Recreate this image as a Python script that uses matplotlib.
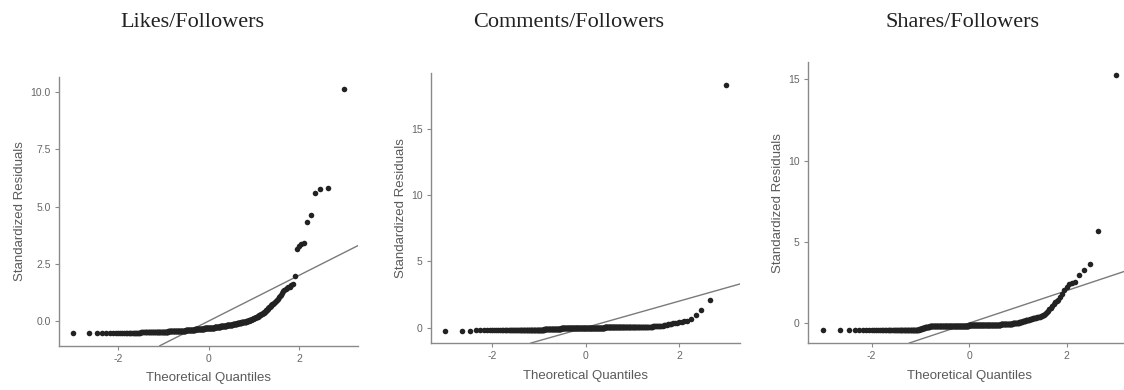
import numpy as np  # For arrays
import matplotlib
matplotlib.use("Agg")  # No display
import matplotlib.pyplot as plt  # For plotting
from statistics import NormalDist  # For normal quantiles


# Panel titles and axis ticks
titles = ["Likes/Followers", "Comments/Followers", "Shares/Followers"]
x_ticks = [-2, 0, 2]
y_ticks_likes = [0.0, 2.5, 5.0, 7.5, 10.0]
y_ticks_comments = [0, 5, 10, 15]
y_ticks_shares = [0, 5, 10, 15]

# Sorted standardized residuals (370 per panel)
likes_resid = [
    -0.54, -0.53, -0.53, -0.52, -0.52, -0.52, -0.52, -0.51, -0.51, -0.51,
    -0.51, -0.51, -0.51, -0.51, -0.50, -0.50, -0.50, -0.50, -0.50, -0.50,
    -0.50, -0.50, -0.50, -0.50, -0.50, -0.49, -0.49, -0.49, -0.49, -0.49,
    -0.49, -0.49, -0.49, -0.49, -0.49, -0.48, -0.48, -0.48, -0.48, -0.48,
    -0.48, -0.48, -0.48, -0.48, -0.48, -0.48, -0.47, -0.47, -0.47, -0.47,
    -0.47, -0.47, -0.47, -0.47, -0.47, -0.47, -0.47, -0.47, -0.47, -0.47,
    -0.47, -0.47, -0.46, -0.46, -0.46, -0.46, -0.46, -0.46, -0.46, -0.45,
    -0.45, -0.45, -0.45, -0.45, -0.45, -0.44, -0.44, -0.44, -0.44, -0.44,
    -0.44, -0.44, -0.44, -0.44, -0.44, -0.43, -0.43, -0.43, -0.43, -0.43,
    -0.43, -0.43, -0.43, -0.42, -0.42, -0.42, -0.42, -0.42, -0.42, -0.42,
    -0.42, -0.42, -0.42, -0.42, -0.42, -0.41, -0.41, -0.41, -0.41, -0.41,
    -0.41, -0.41, -0.41, -0.40, -0.40, -0.40, -0.40, -0.40, -0.39, -0.39,
    -0.39, -0.39, -0.39, -0.39, -0.38, -0.38, -0.38, -0.38, -0.38, -0.38,
    -0.38, -0.38, -0.37, -0.37, -0.37, -0.37, -0.37, -0.37, -0.37, -0.37,
    -0.37, -0.36, -0.36, -0.36, -0.36, -0.36, -0.36, -0.36, -0.35, -0.35,
    -0.35, -0.35, -0.35, -0.35, -0.35, -0.34, -0.34, -0.34, -0.34, -0.34,
    -0.34, -0.34, -0.34, -0.33, -0.33, -0.33, -0.33, -0.33, -0.33, -0.33,
    -0.33, -0.32, -0.32, -0.32, -0.32, -0.32, -0.32, -0.32, -0.31, -0.31,
    -0.31, -0.31, -0.31, -0.31, -0.30, -0.30, -0.30, -0.30, -0.30, -0.30,
    -0.30, -0.29, -0.29, -0.29, -0.29, -0.29, -0.29, -0.29, -0.28, -0.28,
    -0.28, -0.28, -0.28, -0.28, -0.27, -0.27, -0.27, -0.27, -0.26, -0.26,
    -0.26, -0.26, -0.26, -0.25, -0.25, -0.25, -0.25, -0.24, -0.24, -0.24,
    -0.24, -0.24, -0.24, -0.23, -0.23, -0.23, -0.23, -0.23, -0.22, -0.22,
    -0.22, -0.22, -0.22, -0.21, -0.21, -0.21, -0.21, -0.21, -0.20, -0.20,
    -0.20, -0.20, -0.19, -0.19, -0.19, -0.19, -0.18, -0.18, -0.18, -0.18,
    -0.17, -0.17, -0.17, -0.16, -0.16, -0.16, -0.15, -0.15, -0.15, -0.15,
    -0.14, -0.14, -0.14, -0.13, -0.13, -0.13, -0.12, -0.12, -0.12, -0.12,
    -0.11, -0.11, -0.10, -0.10, -0.10, -0.09, -0.09, -0.09, -0.08, -0.08,
    -0.08, -0.07, -0.07, -0.06, -0.06, -0.06, -0.05, -0.05, -0.04, -0.04,
    -0.04, -0.03, -0.03, -0.02, -0.02, -0.01, -0.01, 0.00, 0.00, 0.01,
    0.02, 0.03, 0.03, 0.04, 0.05, 0.06, 0.07, 0.08, 0.09, 0.10,
    0.11, 0.12, 0.13, 0.14, 0.15, 0.16, 0.18, 0.19, 0.20, 0.22,
    0.23, 0.25, 0.26, 0.28, 0.29, 0.31, 0.33, 0.35, 0.36, 0.38,
    0.41, 0.44, 0.47, 0.50, 0.53, 0.56, 0.60, 0.63, 0.67, 0.70,
    0.73, 0.76, 0.79, 0.82, 0.86, 0.92, 0.98, 1.04, 1.10, 1.16,
    1.22, 1.30, 1.36, 1.41, 1.44, 1.47, 1.51, 1.56, 1.64, 1.98,
    3.15, 3.28, 3.38, 3.42, 4.33, 4.65, 5.60, 5.76, 5.83, 10.13,
]

comments_resid = [
    -0.24, -0.23, -0.23, -0.22, -0.22, -0.22, -0.22, -0.22, -0.21, -0.21,
    -0.21, -0.21, -0.21, -0.21, -0.21, -0.21, -0.21, -0.21, -0.21, -0.21,
    -0.21, -0.21, -0.21, -0.21, -0.21, -0.20, -0.20, -0.20, -0.20, -0.20,
    -0.20, -0.20, -0.20, -0.20, -0.20, -0.20, -0.20, -0.20, -0.20, -0.20,
    -0.20, -0.20, -0.20, -0.20, -0.20, -0.19, -0.19, -0.19, -0.19, -0.19,
    -0.19, -0.19, -0.19, -0.19, -0.19, -0.19, -0.19, -0.19, -0.19, -0.19,
    -0.19, -0.19, -0.18, -0.18, -0.18, -0.17, -0.17, -0.16, -0.15, -0.14,
    -0.13, -0.12, -0.11, -0.11, -0.10, -0.10, -0.10, -0.10, -0.10, -0.09,
    -0.09, -0.09, -0.09, -0.09, -0.09, -0.09, -0.09, -0.09, -0.09, -0.09,
    -0.09, -0.09, -0.08, -0.08, -0.08, -0.08, -0.08, -0.08, -0.08, -0.08,
    -0.08, -0.08, -0.08, -0.08, -0.08, -0.08, -0.08, -0.08, -0.08, -0.08,
    -0.08, -0.07, -0.07, -0.07, -0.07, -0.07, -0.07, -0.07, -0.07, -0.07,
    -0.07, -0.07, -0.07, -0.07, -0.07, -0.07, -0.06, -0.06, -0.06, -0.06,
    -0.06, -0.06, -0.06, -0.06, -0.06, -0.06, -0.06, -0.06, -0.06, -0.06,
    -0.06, -0.06, -0.06, -0.06, -0.05, -0.05, -0.05, -0.05, -0.05, -0.05,
    -0.05, -0.05, -0.05, -0.05, -0.05, -0.05, -0.05, -0.05, -0.05, -0.05,
    -0.05, -0.05, -0.05, -0.04, -0.04, -0.04, -0.04, -0.04, -0.04, -0.04,
    -0.04, -0.04, -0.04, -0.04, -0.04, -0.03, -0.03, -0.03, -0.03, -0.03,
    -0.03, -0.03, -0.03, -0.03, -0.03, -0.03, -0.03, -0.03, -0.03, -0.03,
    -0.03, -0.03, -0.03, -0.02, -0.02, -0.02, -0.02, -0.02, -0.02, -0.02,
    -0.02, -0.02, -0.02, -0.02, -0.02, -0.02, -0.01, -0.01, -0.01, -0.01,
    -0.01, -0.01, -0.01, -0.01, -0.01, -0.01, -0.01, -0.01, -0.01, -0.01,
    -0.01, -0.01, -0.01, -0.01, 0.00, 0.00, 0.00, 0.00, 0.00, 0.00,
    0.00, 0.00, 0.00, 0.00, 0.00, 0.00, 0.00, 0.00, 0.00, 0.00,
    0.00, 0.00, 0.00, 0.01, 0.01, 0.01, 0.01, 0.01, 0.01, 0.01,
    0.01, 0.01, 0.01, 0.01, 0.01, 0.01, 0.02, 0.02, 0.02, 0.02,
    0.02, 0.02, 0.02, 0.02, 0.02, 0.02, 0.02, 0.02, 0.02, 0.02,
    0.02, 0.02, 0.02, 0.03, 0.03, 0.03, 0.03, 0.03, 0.03, 0.03,
    0.03, 0.03, 0.03, 0.03, 0.03, 0.03, 0.04, 0.04, 0.04, 0.04,
    0.04, 0.04, 0.04, 0.04, 0.04, 0.04, 0.04, 0.04, 0.05, 0.05,
    0.05, 0.05, 0.05, 0.05, 0.05, 0.05, 0.05, 0.05, 0.05, 0.05,
    0.05, 0.05, 0.05, 0.06, 0.06, 0.06, 0.06, 0.06, 0.06, 0.06,
    0.06, 0.06, 0.06, 0.06, 0.07, 0.07, 0.07, 0.07, 0.07, 0.07,
    0.07, 0.07, 0.07, 0.08, 0.08, 0.08, 0.08, 0.08, 0.08, 0.08,
    0.08, 0.08, 0.09, 0.09, 0.09, 0.10, 0.10, 0.11, 0.11, 0.12,
    0.13, 0.14, 0.16, 0.19, 0.23, 0.26, 0.28, 0.30, 0.32, 0.34,
    0.36, 0.39, 0.43, 0.47, 0.52, 0.63, 0.95, 1.30, 2.08, 18.30,
]

shares_resid = [
    -0.43, -0.43, -0.43, -0.44, -0.44, -0.44, -0.44, -0.44, -0.44, -0.44,
    -0.44, -0.44, -0.44, -0.44, -0.44, -0.44, -0.44, -0.44, -0.44, -0.44,
    -0.44, -0.44, -0.44, -0.44, -0.44, -0.44, -0.44, -0.44, -0.44, -0.44,
    -0.44, -0.44, -0.44, -0.44, -0.44, -0.43, -0.43, -0.43, -0.43, -0.43,
    -0.43, -0.43, -0.43, -0.43, -0.43, -0.43, -0.43, -0.43, -0.43, -0.43,
    -0.43, -0.42, -0.42, -0.41, -0.41, -0.40, -0.39, -0.38, -0.37, -0.36,
    -0.35, -0.34, -0.33, -0.32, -0.31, -0.30, -0.29, -0.28, -0.27, -0.26,
    -0.25, -0.24, -0.23, -0.22, -0.22, -0.21, -0.21, -0.20, -0.20, -0.20,
    -0.20, -0.20, -0.20, -0.20, -0.20, -0.19, -0.19, -0.19, -0.19, -0.19,
    -0.19, -0.19, -0.19, -0.19, -0.19, -0.19, -0.19, -0.19, -0.19, -0.19,
    -0.19, -0.19, -0.19, -0.18, -0.18, -0.18, -0.18, -0.18, -0.18, -0.18,
    -0.18, -0.18, -0.18, -0.18, -0.18, -0.18, -0.18, -0.18, -0.18, -0.18,
    -0.18, -0.18, -0.18, -0.18, -0.17, -0.17, -0.17, -0.17, -0.17, -0.17,
    -0.17, -0.17, -0.17, -0.17, -0.17, -0.17, -0.17, -0.17, -0.17, -0.17,
    -0.17, -0.17, -0.17, -0.17, -0.16, -0.16, -0.16, -0.16, -0.16, -0.16,
    -0.16, -0.16, -0.16, -0.16, -0.16, -0.16, -0.16, -0.16, -0.16, -0.16,
    -0.16, -0.16, -0.16, -0.16, -0.15, -0.15, -0.15, -0.15, -0.15, -0.15,
    -0.15, -0.15, -0.15, -0.15, -0.15, -0.15, -0.15, -0.15, -0.15, -0.15,
    -0.15, -0.15, -0.15, -0.14, -0.14, -0.14, -0.14, -0.14, -0.14, -0.14,
    -0.14, -0.14, -0.14, -0.14, -0.14, -0.14, -0.14, -0.14, -0.14, -0.14,
    -0.14, -0.14, -0.14, -0.13, -0.13, -0.13, -0.13, -0.13, -0.13, -0.13,
    -0.13, -0.13, -0.13, -0.13, -0.13, -0.13, -0.13, -0.13, -0.13, -0.13,
    -0.13, -0.13, -0.12, -0.12, -0.12, -0.12, -0.12, -0.12, -0.12, -0.12,
    -0.12, -0.12, -0.12, -0.12, -0.12, -0.12, -0.12, -0.12, -0.11, -0.11,
    -0.11, -0.11, -0.11, -0.11, -0.11, -0.11, -0.11, -0.11, -0.11, -0.11,
    -0.11, -0.11, -0.11, -0.10, -0.10, -0.10, -0.10, -0.10, -0.10, -0.10,
    -0.10, -0.10, -0.10, -0.10, -0.09, -0.09, -0.09, -0.09, -0.09, -0.09,
    -0.09, -0.09, -0.09, -0.09, -0.08, -0.08, -0.08, -0.08, -0.08, -0.08,
    -0.08, -0.08, -0.08, -0.07, -0.07, -0.07, -0.07, -0.06, -0.06, -0.06,
    -0.06, -0.06, -0.05, -0.05, -0.05, -0.04, -0.04, -0.04, -0.03, -0.03,
    -0.03, -0.02, -0.02, -0.02, -0.01, -0.01, 0.00, 0.00, 0.01, 0.01,
    0.02, 0.02, 0.03, 0.04, 0.05, 0.06, 0.07, 0.08, 0.09, 0.10,
    0.11, 0.12, 0.13, 0.14, 0.16, 0.17, 0.18, 0.20, 0.21, 0.22,
    0.24, 0.25, 0.26, 0.28, 0.29, 0.30, 0.31, 0.33, 0.34, 0.35,
    0.36, 0.38, 0.40, 0.42, 0.44, 0.47, 0.51, 0.56, 0.62, 0.68,
    0.76, 0.84, 0.94, 1.05, 1.18, 1.28, 1.34, 1.45, 1.60, 1.80,
    2.02, 2.23, 2.40, 2.46, 2.50, 2.95, 3.28, 3.63, 5.68, 15.27,
]

residuals = [likes_resid, comments_resid, shares_resid]
y_ticks = [y_ticks_likes, y_ticks_comments, y_ticks_shares]
y_formats = ["{:.1f}", "{:.0f}", "{:.0f}"]

# Axes rectangles in figure fractions (left, bottom, width, height)
axes_rects = [
    [0.0525, 0.1136, 0.266, 0.689],
    [0.3835, 0.1205, 0.275, 0.692],
    [0.719, 0.1205, 0.2865, 0.720],
]
title_x = [0.171, 0.506, 0.856]  # Title centres

SPINE_GREY = "#8a8a8a"
TEXT_GREY = "#5a5a5a"


def theoretical_quantiles(n):
    """Normal quantiles at plotting positions (i - 0.5) / n."""
    nd = NormalDist()
    return np.array([nd.inv_cdf((i - 0.5) / n) for i in range(1, n + 1)])


def style_axes(ax, ticks, fmt):
    """Classic look: only left and bottom spines, grey text."""
    for side in ["top", "right"]:
        ax.spines[side].set_visible(False)
    for side in ["left", "bottom"]:
        ax.spines[side].set_color(SPINE_GREY)
        ax.spines[side].set_linewidth(1.0)
    ax.set_xticks(x_ticks)
    ax.set_xticklabels([str(t) for t in x_ticks])
    ax.set_yticks(ticks)
    ax.set_yticklabels([fmt.format(t) for t in ticks])
    ax.tick_params(direction="out", length=3, width=0.8, color=SPINE_GREY,
                   labelcolor="#666666", labelsize=7.5, pad=3)
    for lab in ax.get_xticklabels() + ax.get_yticklabels():
        lab.set_family("Liberation Sans")
    ax.set_xlabel("Theoretical Quantiles", fontsize=9.5, color=TEXT_GREY,
                  family="Liberation Sans", labelpad=6)
    ax.set_ylabel("Standardized Residuals", fontsize=9.5, color=TEXT_GREY,
                  family="Liberation Sans", labelpad=3)


def main():
    fig = plt.figure(figsize=(11.24, 3.9), dpi=100)  # 1124x390 px
    for k in range(3):
        ax = fig.add_axes(axes_rects[k])
        y = np.array(residuals[k])
        x = theoretical_quantiles(len(y))
        ax.scatter(x, y, s=16, color="#222222", linewidths=0, zorder=3)
        ax.axline((0, 0), slope=1, color="#7a7a7a", linewidth=1.0, zorder=2)
        style_axes(ax, y_ticks[k], y_formats[k])
        fig.text(title_x[k], 0.942, titles[k], ha="center", va="center",
                 fontsize=16, family="Liberation Serif", color="#222222")
    fig.savefig("out.png", dpi=100)
    plt.close(fig)


if __name__ == "__main__":
    main()
